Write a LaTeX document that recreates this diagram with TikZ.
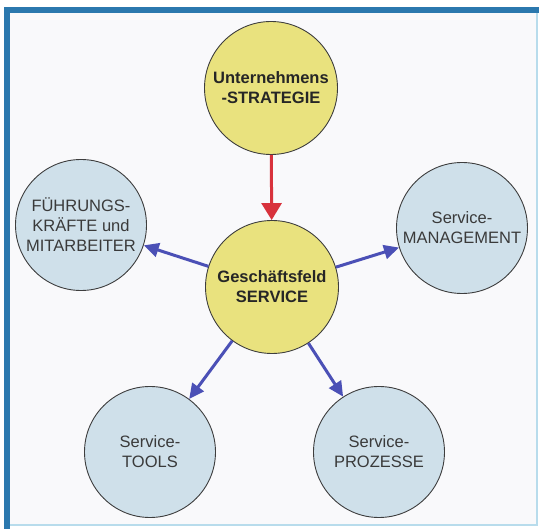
\documentclass[tikz,border=0pt]{standalone}
\usepackage{fontspec}
\setmainfont{Liberation Sans}
\usetikzlibrary{arrows.meta}
\definecolor{framebl}{HTML}{2B78AE}
\definecolor{framelt}{HTML}{B8DCEC}
\definecolor{paper}{HTML}{F9F9FB}
\definecolor{coreyel}{HTML}{E9E27E}
\definecolor{outerbl}{HTML}{CFE0EA}
\definecolor{rimgray}{HTML}{3E3E3E}
\definecolor{redarr}{HTML}{D8323C}
\definecolor{bluearr}{HTML}{4B50B6}
\definecolor{txtgray}{HTML}{3A3A3A}
\tikzset{
  core/.style={circle, draw=rimgray, line width=0.9pt, fill=coreyel, minimum size=133pt,
    inner sep=0pt, align=center, text=black!85,
    font=\fontsize{16.5}{20}\selectfont\bfseries},
  outer/.style={circle, draw=rimgray, line width=0.9pt, fill=outerbl, minimum size=131pt,
    inner sep=0pt, align=center, text=txtgray,
    font=\fontsize{16.5}{20}\selectfont},
  redlink/.style={draw=redarr, line width=3pt, -{Triangle[length=17pt,width=20pt]}},
  bluelink/.style={draw=bluearr, line width=3pt, -{Triangle[length=15pt,width=14pt]}}
}
\begin{document}
\begin{tikzpicture}[x=1pt,y=-1pt]
  \useasboundingbox (0,0) rectangle (539,529);
  \fill[white] (0,0) rectangle (539,529);
  % page and its frame
  \fill[paper] (10,13) rectangle (537,525);
  \fill[framebl] (4,7) rectangle (539,13);
  \fill[framebl] (4,7) rectangle (10,529);
  \draw[framelt, line width=1.5pt] (537,13) -- (537,525) -- (10,525);
  % circles
  \node[core]  (strat) at (271,88)  {Unternehmens\\-STRATEGIE};
  \node[core]  (serv)  at (272,287) {Geschäftsfeld\\SERVICE};
  \node[outer] (staff) at (81,225)  {FÜHRUNGS-\\KRÄFTE und\\MITARBEITER};
  \node[outer] (mgmt)  at (462,228) {Service-\\MANAGEMENT};
  \node[outer] (tools) at (150,452) {Service-\\TOOLS};
  \node[outer] (proc)  at (379,452) {Service-\\PROZESSE};
  % connectors
  \draw[redlink]  (strat) -- (serv);
  \draw[bluelink] (serv) -- (staff);
  \draw[bluelink] (serv) -- (mgmt);
  \draw[bluelink] (serv) -- (tools);
  \draw[bluelink] (serv) -- (proc);
\end{tikzpicture}
\end{document}
